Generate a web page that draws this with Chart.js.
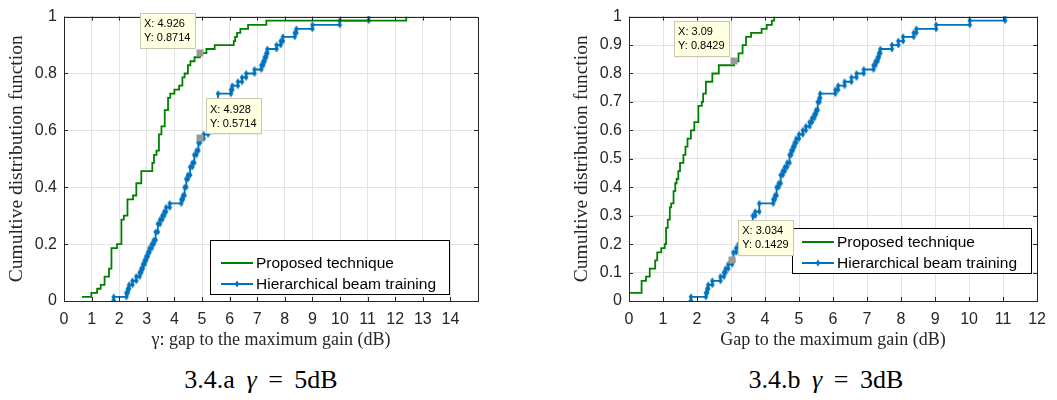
<!DOCTYPE html>
<html>
<head>
<meta charset="utf-8">
<script src="https://cdn.jsdelivr.net/npm/chart.js@4.4.1/dist/chart.umd.min.js"></script>
<style>
  body { margin: 0; background: #fff; width: 1057px; height: 400px; position: relative; overflow: hidden; }
  .panel { position: absolute; top: 0; }
  .caption { position: absolute; top: 365px; font-family: "Liberation Serif", serif; font-size: 26px; word-spacing: 5px; color: #000; transform: translateX(-50%); white-space: nowrap; }
</style>
</head>
<body>
<canvas id="chartA" class="panel" style="left:0px" width="490" height="360"></canvas>
<canvas id="chartB" class="panel" style="left:565px" width="490" height="360"></canvas>
<div class="caption" style="left:261px">3.4.a <i>γ</i> = 5dB</div>
<div class="caption" style="left:826px">3.4.b <i>γ</i> = 3dB</div>

<script>
// Fig 3.4.a (gamma = 5 dB) - step corners of the empirical CDFs
const propA_x = [0.65, 0.99, 1.2, 1.33, 1.47, 1.63, 1.72, 1.92, 2.08, 2.17, 2.3, 2.5, 2.62, 2.8, 3.2, 3.26, 3.35, 3.44, 3.53, 3.65, 3.77, 3.85, 4.0, 4.17, 4.29, 4.37, 4.49, 4.58, 4.73, 4.926, 5.16, 5.46, 6.15, 6.2, 6.27, 6.39, 6.67, 7.33, 12.4];
const propA_y = [0.0143, 0.0286, 0.043, 0.057, 0.086, 0.114, 0.186, 0.2, 0.286, 0.3, 0.357, 0.371, 0.414, 0.457, 0.486, 0.514, 0.529, 0.586, 0.614, 0.671, 0.714, 0.729, 0.743, 0.757, 0.786, 0.8, 0.829, 0.843, 0.857, 0.8714, 0.886, 0.9, 0.914, 0.929, 0.943, 0.957, 0.971, 0.986, 1.0];
const hierA_x = [1.8, 1.8, 2.26, 2.31, 2.36, 2.48, 2.62, 2.74, 2.8, 2.86, 2.92, 2.98, 3.04, 3.1, 3.18, 3.25, 3.32, 3.4, 3.48, 3.56, 3.63, 3.7, 3.83, 4.25, 4.31, 4.37, 4.43, 4.49, 4.57, 4.65, 4.72, 4.8, 4.87, 4.928, 5.06, 5.22, 5.31, 5.4, 5.49, 5.58, 6.05, 6.1, 6.3, 6.45, 6.6, 6.9, 7.15, 7.22, 7.27, 7.33, 7.37, 7.7, 7.85, 7.93, 8.36, 8.42, 9.0, 9.99, 11.04];
const hierA_y = [0, 0.0143, 0.029, 0.043, 0.057, 0.071, 0.086, 0.1, 0.114, 0.129, 0.143, 0.157, 0.171, 0.186, 0.2, 0.214, 0.243, 0.271, 0.286, 0.3, 0.314, 0.329, 0.343, 0.357, 0.371, 0.4, 0.429, 0.443, 0.471, 0.486, 0.514, 0.529, 0.557, 0.5714, 0.586, 0.614, 0.629, 0.657, 0.686, 0.729, 0.743, 0.757, 0.771, 0.786, 0.8, 0.814, 0.829, 0.843, 0.857, 0.871, 0.886, 0.9, 0.914, 0.929, 0.943, 0.957, 0.971, 0.986, 1.0];

// Fig 3.4.b (gamma = 3 dB)
const propB_x = [0, 0.37, 0.5, 0.61, 0.77, 0.83, 0.95, 1.05, 1.09, 1.14, 1.2, 1.24, 1.31, 1.36, 1.4, 1.45, 1.5, 1.6, 1.66, 1.72, 1.82, 1.92, 2.04, 2.14, 2.18, 2.26, 2.45, 2.64, 3.09, 3.22, 3.34, 3.44, 3.59, 3.9, 4.05, 4.2, 4.27];
const propB_y = [0.0286, 0.071, 0.086, 0.114, 0.143, 0.171, 0.186, 0.2, 0.257, 0.286, 0.329, 0.343, 0.386, 0.414, 0.429, 0.457, 0.486, 0.514, 0.543, 0.571, 0.6, 0.629, 0.686, 0.7, 0.729, 0.771, 0.8, 0.829, 0.8429, 0.871, 0.9, 0.929, 0.943, 0.957, 0.971, 0.986, 1.0];
const hierB_x = [1.82, 1.82, 2.26, 2.3, 2.33, 2.45, 2.69, 2.79, 2.84, 2.92, 3.034, 3.07, 3.15, 3.22, 3.3, 3.37, 3.46, 3.56, 3.64, 3.71, 3.83, 4.24, 4.29, 4.34, 4.4, 4.46, 4.52, 4.58, 4.65, 4.72, 4.77, 4.82, 4.87, 4.92, 5.0, 5.11, 5.2, 5.31, 5.38, 5.45, 5.5, 5.55, 5.6, 5.62, 6.07, 6.15, 6.34, 6.54, 6.69, 6.9, 7.19, 7.25, 7.31, 7.35, 7.39, 7.73, 7.92, 8.06, 8.37, 8.45, 9.03, 10.02, 11.06];
const hierB_y = [0, 0.0143, 0.029, 0.043, 0.057, 0.071, 0.086, 0.1, 0.114, 0.129, 0.1429, 0.171, 0.186, 0.2, 0.229, 0.243, 0.257, 0.271, 0.3, 0.314, 0.343, 0.357, 0.371, 0.4, 0.414, 0.443, 0.457, 0.471, 0.486, 0.514, 0.529, 0.543, 0.557, 0.571, 0.586, 0.6, 0.614, 0.629, 0.643, 0.657, 0.671, 0.7, 0.714, 0.729, 0.743, 0.757, 0.771, 0.786, 0.8, 0.814, 0.829, 0.843, 0.857, 0.871, 0.886, 0.9, 0.914, 0.929, 0.943, 0.957, 0.971, 0.986, 1.0];

// axis ticks
const xTicksA = [0, 1, 2, 3, 4, 5, 6, 7, 8, 9, 10, 11, 12, 13, 14];
const yTicksA = [0, 0.2, 0.4, 0.6, 0.8, 1];
const xTicksB = [0, 1, 2, 3, 4, 5, 6, 7, 8, 9, 10, 11, 12];
const yTicksB = [0, 0.1, 0.2, 0.3, 0.4, 0.5, 0.6, 0.7, 0.8, 0.9, 1];

// data tips shown on the figures
const tipsA_x = [4.926, 4.928];
const tipsA_y = [0.8714, 0.5714];
const tipsB_x = [3.09, 3.034];
const tipsB_y = [0.8429, 0.1429];

const labels = ['Proposed technique', 'Hierarchical beam training'];
const GREEN = '#008000';
const BLUE = '#0072bd';
const AXIS = '#262626';

// turn (x, level) corners into a staircase with markers at both ends of each jump
function stairs(xs, ys) {
    const pts = [{x: xs[0], y: ys[0]}];
    for (let i = 1; i < xs.length; i++) {
        pts.push({x: xs[i], y: ys[i - 1]});
        pts.push({x: xs[i], y: ys[i]});
    }
    return pts;
}

function drawMarker(ctx, x, y) {
    ctx.beginPath();
    ctx.moveTo(x, y - 3.5);
    ctx.lineTo(x + 2.3, y);
    ctx.lineTo(x, y + 3.5);
    ctx.lineTo(x - 2.3, y);
    ctx.closePath();
    ctx.fill();
}

// tall diamond used as the point style of the blue series
function diamondImage() {
    const c = document.createElement('canvas');
    c.width = 6; c.height = 8;
    const g = c.getContext('2d');
    g.fillStyle = BLUE;
    drawMarker(g, 3, 4);
    return c;
}

// box, inward ticks, legend and data tips, MATLAB style
const matlabFrame = {
    id: 'matlabFrame',
    afterDatasetsDraw(chart, args, opts) {
        const {ctx, chartArea: a, scales} = chart;
        ctx.save();
        ctx.strokeStyle = AXIS;
        ctx.lineWidth = 1;
        ctx.beginPath();
        scales.x.ticks.forEach(t => {
            const px = Math.round(scales.x.getPixelForValue(t.value)) + 0.5;
            ctx.moveTo(px, a.bottom); ctx.lineTo(px, a.bottom - 4);
            ctx.moveTo(px, a.top); ctx.lineTo(px, a.top + 4);
        });
        scales.y.ticks.forEach(t => {
            const py = Math.round(scales.y.getPixelForValue(t.value)) + 0.5;
            ctx.moveTo(a.left, py); ctx.lineTo(a.left + 4, py);
            ctx.moveTo(a.right, py); ctx.lineTo(a.right - 4, py);
        });
        ctx.stroke();
        ctx.strokeRect(Math.round(a.left) + 0.5, Math.round(a.top) + 0.5,
            Math.round(a.right - a.left), Math.round(a.bottom - a.top));

        // legend
        const lg = opts.legend;
        ctx.fillStyle = '#fff';
        ctx.fillRect(lg.left, lg.top, lg.width, lg.height);
        ctx.strokeStyle = '#000';
        ctx.strokeRect(lg.left + 0.5, lg.top + 0.5, lg.width, lg.height);
        ctx.font = '15.5px "Liberation Sans", Arial, sans-serif';
        ctx.textBaseline = 'middle';
        ctx.textAlign = 'left';
        [GREEN, BLUE].forEach((c, i) => {
            const y = lg.top + lg.rows[i];
            ctx.strokeStyle = c;
            ctx.lineWidth = 2;
            ctx.beginPath();
            ctx.moveTo(lg.left + lg.lineX0, y);
            ctx.lineTo(lg.left + lg.lineX1, y);
            ctx.stroke();
            if (i === 1) {
                ctx.fillStyle = c;
                drawMarker(ctx, lg.left + (lg.lineX0 + lg.lineX1) / 2, y);
            }
            ctx.fillStyle = '#000';
            ctx.fillText(labels[i], lg.left + lg.textX, y + 1);
        });

        // data tips
        const tp = opts.tips;
        ctx.font = '11px "Liberation Sans", Arial, sans-serif';
        tp.x.forEach((xv, i) => {
            const px = scales.x.getPixelForValue(xv);
            const py = scales.y.getPixelForValue(tp.y[i]);
            const w = 55, h = 35;
            const bx = tp.side[i] === 'left' ? px - 5 - w : px + 6;
            const by = py - 5 - h;
            ctx.fillStyle = 'rgba(0,0,0,0.12)';
            ctx.fillRect(bx + 1, by + 1, w, h);
            ctx.fillStyle = '#ffffe1';
            ctx.fillRect(bx, by, w, h);
            ctx.strokeStyle = '#c8c8b4';
            ctx.lineWidth = 1;
            ctx.strokeRect(Math.round(bx) + 0.5, Math.round(by) + 0.5, w, h);
            ctx.fillStyle = '#000';
            ctx.fillText('X: ' + xv, bx + 4, by + 11);
            ctx.fillText('Y: ' + tp.y[i], bx + 4, by + 25);
            ctx.fillStyle = '#999';
            ctx.fillRect(Math.round(px) - 3.5, Math.round(py) - 3.5, 7, 7);
        });
        ctx.restore();
    }
};

function makeChart(id, cfg) {
    const tickFont = {family: '"Liberation Sans", Arial, sans-serif', size: 16};
    const xTitleFont = {family: '"Liberation Serif", serif', size: 18};
    const yTitleFont = {family: '"Liberation Serif", serif', size: 19.5};
    return new Chart(document.getElementById(id), {
        type: 'line',
        data: {
            datasets: [
                {
                    label: labels[0],
                    data: stairs(cfg.px, cfg.py),
                    borderColor: GREEN,
                    borderWidth: 1.8,
                    pointRadius: 0,
                    tension: 0,
                    fill: false
                },
                {
                    label: labels[1],
                    data: stairs(cfg.hx, cfg.hy),
                    borderColor: BLUE,
                    backgroundColor: BLUE,
                    borderWidth: 1.8,
                    pointStyle: diamondImage(),
                    pointRadius: 3,
                    tension: 0,
                    fill: false
                }
            ]
        },
        options: {
            responsive: false,
            animation: false,
            layout: {padding: {top: 10, right: 12, left: 0, bottom: 0}},
            plugins: {
                legend: {display: false},
                tooltip: {enabled: false},
                matlabFrame: {legend: cfg.legend, tips: cfg.tips}
            },
            scales: {
                x: {
                    type: 'linear',
                    min: 0,
                    max: cfg.xMax,
                    afterBuildTicks: s => { s.ticks = cfg.xTicks.map(v => ({value: v})); },
                    afterFit: s => { s.height = 59; },
                    ticks: {font: tickFont, color: AXIS, padding: 9, maxRotation: 0, autoSkip: false, callback: v => String(v)},
                    grid: {color: '#e3e3e3', drawTicks: false},
                    border: {display: false},
                    title: {display: true, text: cfg.xTitle, font: xTitleFont, color: AXIS, padding: {top: 0, bottom: 9}}
                },
                y: {
                    type: 'linear',
                    min: 0,
                    max: 1,
                    afterBuildTicks: s => { s.ticks = cfg.yTicks.map(v => ({value: v})); },
                    afterFit: s => { s.width = 64; },
                    ticks: {font: tickFont, color: AXIS, padding: 7, autoSkip: false, callback: v => String(v)},
                    grid: {color: '#e3e3e3', drawTicks: false},
                    border: {display: false},
                    title: {display: true, text: 'Cumultive distribution function', font: yTitleFont, color: AXIS, padding: {top: 5, bottom: 0}}
                }
            }
        },
        plugins: [matlabFrame]
    });
}

document.addEventListener('DOMContentLoaded', () => {
    makeChart('chartA', {
        px: propA_x, py: propA_y, hx: hierA_x, hy: hierA_y,
        xMax: 15, xTicks: xTicksA, yTicks: yTicksA,
        xTitle: 'γ: gap to the maximum gain (dB)',
        legend: {left: 210, top: 240, width: 239, height: 54, rows: [23, 44], lineX0: 11, lineX1: 43, textX: 46},
        tips: {x: tipsA_x, y: tipsA_y, side: ['left', 'right']}
    });
    makeChart('chartB', {
        px: propB_x, py: propB_y, hx: hierB_x, hy: hierB_y,
        xMax: 12, xTicks: xTicksB, yTicks: yTicksB,
        xTitle: 'Gap to the maximum gain (dB)',
        legend: {left: 227, top: 228, width: 239, height: 45, rows: [14, 35], lineX0: 10, lineX1: 42, textX: 45},
        tips: {x: tipsB_x, y: tipsB_y, side: ['left', 'right']}
    });
});
</script>
</body>
</html>
